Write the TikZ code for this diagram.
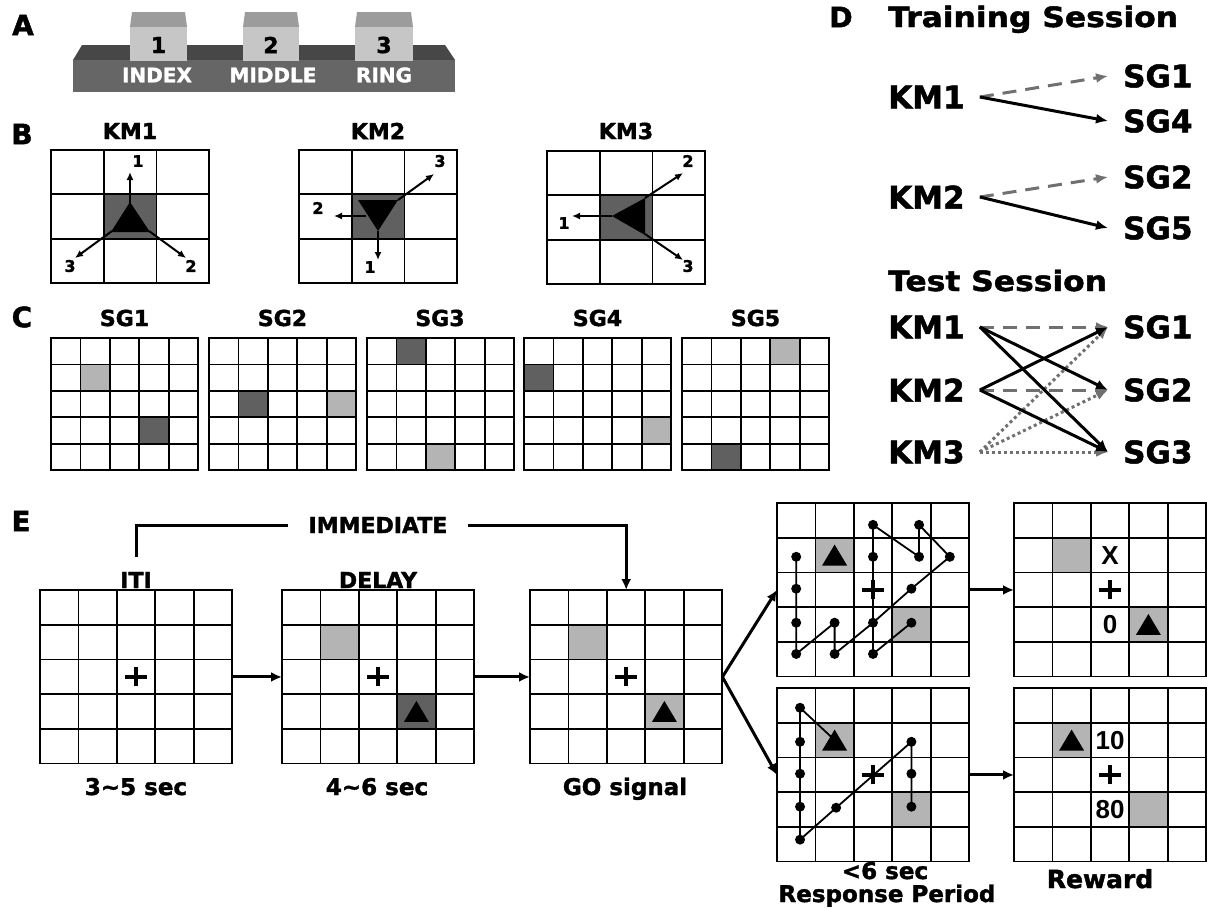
\documentclass[tikz,border=0pt]{standalone}
\usepackage{fontspec}
\setmainfont{DejaVu Sans}[BoldFeatures={FakeBold=1.6}]
\newfontfamily\widefont{DejaVu Sans}[FakeStretch=1.12,BoldFeatures={FakeBold=1.6}]
\newfontfamily\libfont{Liberation Sans}
\usetikzlibrary{arrows.meta}
\newcommand\fsz[1]{\fontsize{#1}{#1}\selectfont}
\definecolor{darkcell}{HTML}{606060}
\definecolor{lightcell}{HTML}{B4B4B4}
\definecolor{arrgray}{HTML}{707070}
\definecolor{basefront}{HTML}{666666}
\definecolor{basetop}{HTML}{474747}
\definecolor{keytop}{HTML}{9C9C9C}
\definecolor{keyfront}{HTML}{C6C6C6}
\tikzset{
  gline/.style={line width=1.8pt, line cap=rect},
  conn/.style={line width=3pt},
  tipE/.style={-{Latex[length=11pt,width=10pt]}},
  barr/.style={line width=2pt,-{Latex[length=8pt,width=7pt]}},
  dig/.style={inner sep=0pt,font=\bfseries\fsz{16}},
  panel/.style={inner sep=0pt,font=\bfseries\fsz{28}},
  ttl/.style={inner sep=0pt,font=\bfseries\fsz{22}},
  lbl/.style={inner sep=0pt,font=\bfseries\fsz{22}},
  sub/.style={inner sep=0pt,anchor=base,font=\bfseries\fsz{23}},
  dl/.style={inner xsep=15pt,inner ysep=0pt,anchor=west,font=\bfseries\fsz{31}},
  dhead/.style={inner sep=0pt,anchor=base west,font=\widefont\bfseries\fsz{28}},
  blk/.style={line width=3pt,-{Latex[length=12pt,width=10pt]}},
  grayd/.style={line width=3pt,draw=arrgray,dash pattern=on 14pt off 9pt,-{Latex[length=12pt,width=10pt]}},
  grayo/.style={line width=3pt,draw=arrgray,dash pattern=on 3pt off 3pt,-{Latex[length=12pt,width=10pt]}},
  pathl/.style={line width=1.8pt},
  cellnum/.style={inner sep=0pt,font=\libfont\bfseries\fsz{26}},
}
\newcommand\cellgrid[2]{%
  \foreach \k in {0,...,#1} \draw[gline] (\k,0) -- (\k,#2);
  \foreach \k in {0,...,#2} \draw[gline] (0,\k) -- (#1,\k);}
\newcommand\cellfill[3]{\fill[#1] (#2,#3) rectangle ++(1,1);}
\newcommand\plusmark[2]{\draw[line width=4.5pt] (#1,#2) ++(-11pt,0pt) -- ++(22pt,0pt) (#1,#2) ++(0pt,-9.5pt) -- ++(0pt,19pt);}
\newcommand\trimark[2]{\fill (#1,#2) ++(-12.5pt,-10.5pt) -- ++(25pt,0pt) -- ++(-12.5pt,21pt) -- cycle;}
\newcommand\egrid[5]{%
  \begin{scope}[shift={(#2,#3)},x=38.4pt,y=-34.7pt]
  #4
  \cellgrid{5}{5}
  #5
  \node[inner sep=0pt,minimum width=192pt,minimum height=173.5pt,anchor=north west] (#1) at (0,0) {};
  \end{scope}}
\newcommand\sggrid[6]{% x0, dark c, dark r, light c, light r, name
  \begin{scope}[shift={(#1,338)},x=29.4pt,y=-26.4pt]
  \cellfill{darkcell}{#2}{#3}
  \cellfill{lightcell}{#4}{#5}
  \cellgrid{5}{5}
  \node[inner sep=0pt,minimum width=147pt,minimum height=132pt,anchor=north west] (#6) at (0,0) {};
  \end{scope}}
\newcommand\kmgrid[3]{% x0, y0, name
  \begin{scope}[shift={(#1,#2)},x=52.7pt,y=-44.3pt]
  \cellfill{darkcell}{1}{1}
  \cellgrid{3}{3}
  \node[inner sep=0pt,minimum width=158pt,minimum height=133pt,anchor=north west] (#3) at (0,0) {};
  \end{scope}}
\begin{document}
\begin{tikzpicture}[x=1pt,y=-1pt]
\useasboundingbox (0,0) rectangle (1207,908);
\fill[white] (0,0) rectangle (1207,908);

% ---------------- A
\node[panel] (pA) at (23,25) {A};
\fill[basetop] (82,45) -- (445,45) -- (455,60) -- (73,60) -- cycle;
\fill[basefront] (73,60) rectangle (455,92);
\foreach \x/\w in {130/57,243/56,355/58}{
  \fill[keytop] ({\x+2},12) -- ({\x+\w-2},12) -- ({\x+\w},27) -- (\x,27) -- cycle;
  \fill[keyfront] (\x,27) rectangle ({\x+\w},61);
}
\node[lbl] (k1) at (158.5,45) {1};
\node[lbl] (k2) at (271,45) {2};
\node[lbl] (k3) at (384,45) {3};
\node[inner sep=0pt,text=white,font=\bfseries\fsz{20}] (kin) at (157,75) {INDEX};
\node[inner sep=0pt,text=white,font=\bfseries\fsz{20}] (kmi) at (273,75) {MIDDLE};
\node[inner sep=0pt,text=white,font=\bfseries\fsz{20}] (kri) at (384,75) {RING};

% ---------------- B
\node[panel] (pB) at (22,134) {B};
\node[ttl] (tkm1) at (130,131) {KM1};
\node[ttl] (tkm2) at (378,131) {KM2};
\node[ttl] (tkm3) at (626,131) {KM3};
\kmgrid{51}{150}{gk1}
\kmgrid{299}{150}{gk2}
\kmgrid{547}{151}{gk3}
% KM1
\fill (130,202) -- (150,232) -- (111,232) -- cycle;
\draw[barr] (130,203) -- (130,172);
\draw[barr] (112,231) -- (75,258);
\draw[barr] (149,231) -- (186,258);
\node[dig] (b11) at (138,161) {1};
\node[dig] (b12) at (191,266) {2};
\node[dig] (b13) at (70,266) {3};
% KM2
\fill (358,200) -- (398,200) -- (378,231) -- cycle;
\draw[barr] (398,200) -- (434,174);
\draw[barr] (366,216) -- (334,216);
\draw[barr] (378,231) -- (378,260);
\node[dig] (b23) at (440,161) {3};
\node[dig] (b22) at (318,208) {2};
\node[dig] (b21) at (370,267) {1};
% KM3
\fill (612,216) -- (645,198) -- (645,235) -- cycle;
\draw[barr] (612,216) -- (572,216);
\draw[barr] (645,198) -- (683,173);
\draw[barr] (645,234) -- (683,260);
\node[dig] (b31) at (564,223) {1};
\node[dig] (b32) at (688,161) {2};
\node[dig] (b33) at (688,266) {3};

% ---------------- C
\node[panel] (pC) at (22,317) {C};
\node[ttl] (tsg1) at (124.5,318) {SG1};
\node[ttl] (tsg2) at (282.5,318) {SG2};
\node[ttl] (tsg3) at (440,318) {SG3};
\node[ttl] (tsg4) at (597.5,318) {SG4};
\node[ttl] (tsg5) at (755.5,318) {SG5};
\sggrid{51}{3}{3}{1}{1}{g1}
\sggrid{209}{1}{2}{4}{2}{g2}
\sggrid{367}{1}{0}{2}{4}{g3}
\sggrid{524}{0}{1}{4}{3}{g4}
\sggrid{682}{1}{4}{3}{0}{g5}

% ---------------- D
\node[panel] (pD) at (841,17) {D};
\node[dhead] (trn) at (888,27) {Training Session};
\node[dl] (tk1) at (873,97) {KM1};
\node[dl] (tk2) at (873,197) {KM2};
\node[dl] (ts1) at (1108,76) {SG1};
\node[dl] (ts4) at (1108,121) {SG4};
\node[dl] (ts2) at (1108,177) {SG2};
\node[dl] (ts5) at (1108,228) {SG5};
\draw[grayd] (tk1.east) -- (ts1.west);
\draw[blk] (tk1.east) -- (ts4.west);
\draw[grayd] (tk2.east) -- (ts2.west);
\draw[blk] (tk2.east) -- (ts5.west);
\node[dhead] (tst) at (888,291) {Test Session};
\node[dl] (q1) at (873,327) {KM1};
\node[dl] (q2) at (873,390) {KM2};
\node[dl] (q3) at (873,452) {KM3};
\node[dl] (p1) at (1108,327) {SG1};
\node[dl] (p2) at (1108,390) {SG2};
\node[dl] (p3) at (1108,452) {SG3};
\draw[grayo] (q3.east) -- (p1.west);
\draw[grayo] (q3.east) -- (p2.west);
\draw[grayo] (q3.east) -- (p3.west);
\draw[grayd] (q1.east) -- (p1.west);
\draw[grayd] (q2.east) -- (p2.west);
\draw[blk] (q1.east) -- (p2.west);
\draw[blk] (q1.east) -- (p3.west);
\draw[blk] (q2.east) -- (p1.west);
\draw[blk] (q2.east) -- (p3.west);

% ---------------- E
\node[panel] (pE) at (21,521) {E};
\egrid{iti}{40}{590}{}{\plusmark{2.5}{2.5}}
\egrid{delay}{282}{590}{\cellfill{lightcell}{1}{1}\cellfill{darkcell}{3}{3}}{\plusmark{2.5}{2.5}\trimark{3.5}{3.5}}
\egrid{go}{530}{590}{\cellfill{lightcell}{1}{1}\cellfill{lightcell}{3}{3}}{\plusmark{2.5}{2.5}\trimark{3.5}{3.5}}
\egrid{r1}{777}{503}{\cellfill{lightcell}{1}{1}\cellfill{lightcell}{3}{3}}{%
  \trimark{1.5}{1.5}\plusmark{2.5}{2.5}
  \draw[pathl] (0.5,1.55) -- (0.5,2.47) -- (0.5,3.45) -- (0.5,4.35) -- (1.5,3.45) -- (1.5,4.35) -- (2.5,3.45) -- (3.5,2.47) -- (4.5,1.55) -- (3.7,0.63) -- (3.7,1.55) -- (2.5,0.63) -- (2.5,1.55) -- (2.5,3.45) -- (2.5,4.35) -- (3.5,3.45);
  \foreach \p in {(0.5,1.55),(0.5,2.47),(0.5,3.45),(0.5,4.35),(1.5,3.45),(1.5,4.35),(2.5,3.45),(3.5,2.47),(4.5,1.55),(3.7,0.63),(3.7,1.55),(2.5,0.63),(2.5,1.55),(2.5,4.35),(3.5,3.45)} \fill \p circle[radius=5pt];}
\egrid{w1}{1014}{503}{\cellfill{lightcell}{1}{1}\cellfill{lightcell}{3}{3}}{%
  \plusmark{2.5}{2.5}\trimark{3.5}{3.5}
  \node[cellnum] (wx) at (2.5,1.5) {X};
  \node[cellnum] (w0) at (2.5,3.5) {0};}
\egrid{r2}{777}{688}{\cellfill{lightcell}{1}{1}\cellfill{lightcell}{3}{3}}{%
  \draw[pathl] (1.5,1.5) -- (0.6,0.57) -- (0.6,1.55) -- (0.6,2.47) -- (0.6,3.42) -- (0.6,4.37) -- (1.54,3.45) -- (3.5,1.55) -- (3.5,2.47) -- (3.5,3.42);
  \trimark{1.5}{1.5}\plusmark{2.5}{2.5}
  \foreach \p in {(0.6,0.57),(0.6,1.55),(0.6,2.47),(0.6,3.42),(0.6,4.37),(1.54,3.45),(3.5,1.55),(3.5,2.47),(3.5,3.42)} \fill \p circle[radius=5pt];}
\egrid{w2}{1014}{688}{\cellfill{lightcell}{1}{1}\cellfill{lightcell}{3}{3}}{%
  \trimark{1.5}{1.5}\plusmark{2.5}{2.5}
  \node[cellnum] (w10) at (2.5,1.5) {10};
  \node[cellnum] (w80) at (2.5,3.5) {80};}

\node[lbl,inner xsep=20pt] (imm) at (378,525) {IMMEDIATE};
\node[lbl] (itil) at (136,580) {ITI};
\node[lbl] (dell) at (378,580) {DELAY};
\draw[conn,shorten <=15pt] (itil.north) |- (imm.west);
\draw[conn,tipE] (imm.east) -| (go.north);
\draw[conn,tipE] (iti.east) -- (delay.west);
\draw[conn,tipE] (delay.east) -- (go.west);
\draw[conn,tipE] (go.east) -- (r1.west);
\draw[conn,tipE] (go.east) -- (r2.west);
\draw[conn,tipE] (r1.east) -- (w1.west);
\draw[conn,tipE] (r2.east) -- (w2.west);

\node[sub] (s35) at (136,795) {3\textasciitilde 5 sec};
\node[sub] (s46) at (377,795) {4\textasciitilde 6 sec};
\node[sub] (sgo) at (625,795) {GO signal};
\node[sub,font=\bfseries\fsz{23}] (s6) at (885,879) {<6 sec};
\node[sub,font=\bfseries\fsz{23}] (srp) at (887,902) {Response Period};
\node[sub,font=\bfseries\fsz{25}] (srw) at (1100,888) {Reward};
\end{tikzpicture}
\end{document}
